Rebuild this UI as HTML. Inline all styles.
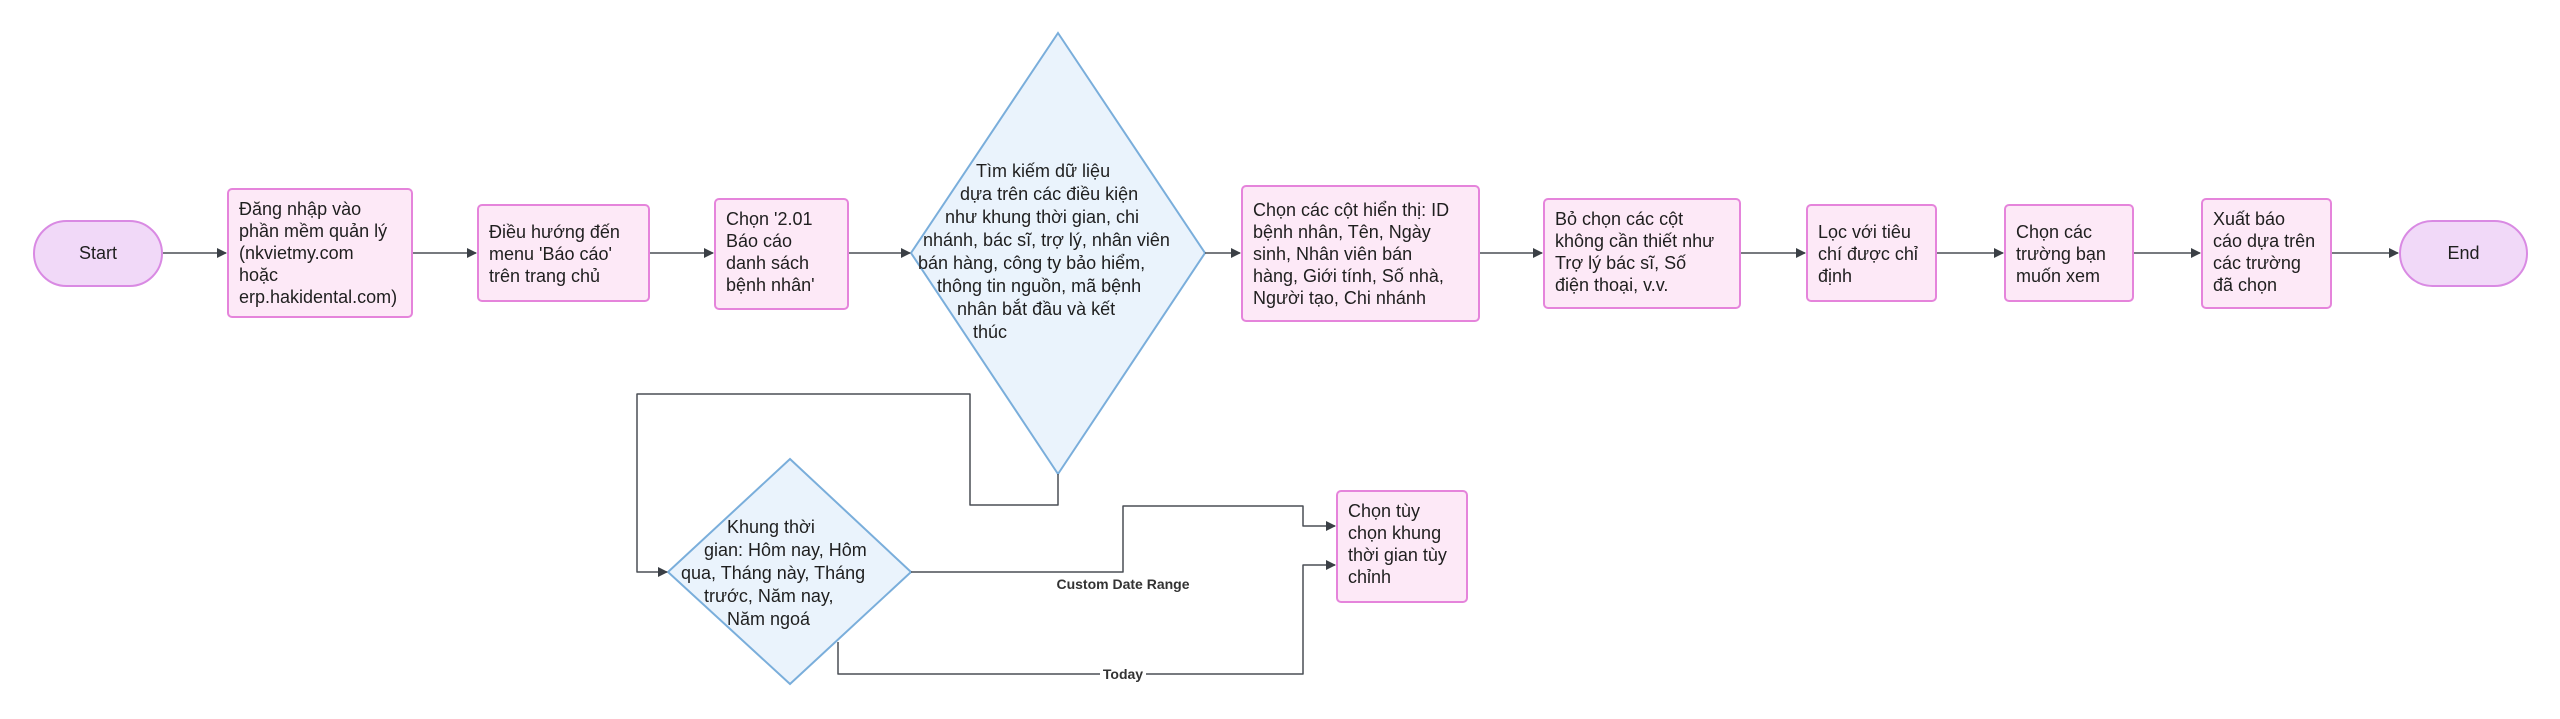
<!DOCTYPE html>
<html><head><meta charset="utf-8"><style>
html,body{margin:0;padding:0;background:#fff;}
body{width:2560px;height:719px;position:relative;overflow:hidden;font-family:"Liberation Sans","DejaVu Sans",sans-serif;color:#1f1f1f;}
.b{position:absolute;box-sizing:border-box;background:#fde9f7;border:2px solid #e584db;border-radius:5px;padding:8px 10px;font-size:18px;line-height:22px;white-space:nowrap;}
.p{position:absolute;box-sizing:border-box;background:#f1d9f8;border:2px solid #d98ae3;border-radius:40px;font-size:18px;display:flex;align-items:center;justify-content:center;}
svg{position:absolute;left:0;top:0;}
</style></head><body>
<svg width="2560" height="719" viewBox="0 0 2560 719">
<defs><marker id="a" markerWidth="10" markerHeight="10" refX="9" refY="5" orient="auto" markerUnits="userSpaceOnUse"><path d="M0,0 L10,5 L0,10 z" fill="#3a3f45"/></marker></defs>
<g fill="#eaf3fc" stroke="#7aaedb" stroke-width="2">
<polygon points="1058,33 1205,253 1058,474 911,253"/>
<polygon points="790,459 911,572 790,684 668,572"/>
</g>
<g stroke="#4a4f55" stroke-width="1.5" fill="none" marker-end="url(#a)" stroke-linejoin="round">
<line x1="163" y1="253" x2="226" y2="253"/>
<line x1="413" y1="253" x2="476" y2="253"/>
<line x1="650" y1="253" x2="713" y2="253"/>
<line x1="849" y1="253" x2="910" y2="253"/>
<line x1="1205" y1="253" x2="1240" y2="253"/>
<line x1="1480" y1="253" x2="1542" y2="253"/>
<line x1="1741" y1="253" x2="1805" y2="253"/>
<line x1="1937" y1="253" x2="2003" y2="253"/>
<line x1="2134" y1="253" x2="2200" y2="253"/>
<line x1="2332" y1="253" x2="2398" y2="253"/>
<path d="M1058,474 V505 H970 V394 H637 V572 H667"/>
<path d="M911,572 H1123 V506 H1303 V526 H1335"/>
<path d="M838,642 V674 H1303 V565 H1335"/>
</g>
<text x="1123" y="589" font-size="14" font-weight="bold" text-anchor="middle" fill="#333" font-family="Liberation Sans, sans-serif">Custom Date Range</text>
<rect x="1100" y="666" width="46" height="16" fill="#fff"/>
<text x="1123" y="679" font-size="14" font-weight="bold" text-anchor="middle" fill="#333" font-family="Liberation Sans, sans-serif">Today</text>
<g font-size="18" fill="#1f1f1f" font-family="Liberation Sans, DejaVu Sans, sans-serif">
<text x="976" y="177">Tìm kiếm dữ liệu</text>
<text x="960" y="200">dựa trên các điều kiện</text>
<text x="945" y="223">như khung thời gian, chi</text>
<text x="923" y="246">nhánh, bác sĩ, trợ lý, nhân viên</text>
<text x="918" y="269">bán hàng, công ty bảo hiểm,</text>
<text x="937" y="292">thông tin nguồn, mã bệnh</text>
<text x="957" y="315">nhân bắt đầu và kết</text>
<text x="973" y="338">thúc</text>
<text x="727" y="533">Khung thời</text>
<text x="704" y="556">gian: Hôm nay, Hôm</text>
<text x="681" y="579">qua, Tháng này, Tháng</text>
<text x="704" y="602">trước, Năm nay,</text>
<text x="727" y="625">Năm ngoá</text>
</g>
</svg>
<div class="p" style="left:33px;top:220px;width:130px;height:67px;">Start</div>
<div class="p" style="left:2399px;top:220px;width:129px;height:67px;">End</div>
<div class="b" style="left:227px;top:188px;width:186px;height:130px;">Đăng nhập vào<br>phần mềm quản lý<br>(nkvietmy.com<br>hoặc<br>erp.hakidental.com)</div>
<div class="b" style="left:477px;top:204px;width:173px;height:98px;padding-top:15px;">Điều hướng đến<br>menu 'Báo cáo'<br>trên trang chủ</div>
<div class="b" style="left:714px;top:198px;width:135px;height:112px;">Chọn '2.01<br>Báo cáo<br>danh sách<br>bệnh nhân'</div>
<div class="b" style="left:1241px;top:185px;width:239px;height:137px;padding-top:12px;">Chọn các cột hiển thị: ID<br>bệnh nhân, Tên, Ngày<br>sinh, Nhân viên bán<br>hàng, Giới tính, Số nhà,<br>Người tạo, Chi nhánh</div>
<div class="b" style="left:1543px;top:198px;width:198px;height:111px;">Bỏ chọn các cột<br>không cần thiết như<br>Trợ lý bác sĩ, Số<br>điện thoại, v.v.</div>
<div class="b" style="left:1806px;top:204px;width:131px;height:98px;padding-top:15px;">Lọc với tiêu<br>chí được chỉ<br>định</div>
<div class="b" style="left:2004px;top:204px;width:130px;height:98px;padding-top:15px;">Chọn các<br>trường bạn<br>muốn xem</div>
<div class="b" style="left:2201px;top:198px;width:131px;height:111px;">Xuất báo<br>cáo dựa trên<br>các trường<br>đã chọn</div>
<div class="b" style="left:1336px;top:490px;width:132px;height:113px;">Chọn tùy<br>chọn khung<br>thời gian tùy<br>chỉnh</div>
</body></html>
